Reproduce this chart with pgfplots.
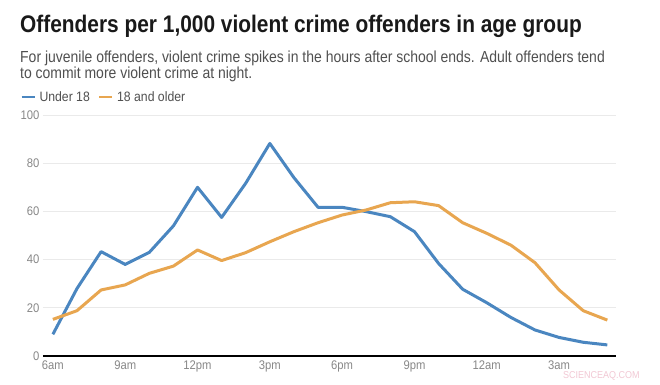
\documentclass[border=0pt]{standalone}
\usepackage{fontspec}
\setmainfont{Liberation Sans}[FakeStretch=0.9]
\newfontfamily\titlefont{Liberation Sans}[FakeStretch=0.87]
\newfontfamily\subfont{Liberation Sans}[FakeStretch=0.873]
\usepackage{pgfplots}
\pgfplotsset{compat=1.18}
\definecolor{ublue}{RGB}{74,134,192}
\definecolor{aorange}{RGB}{232,166,80}
\definecolor{gridc}{RGB}{234,234,234}
\definecolor{tickc}{RGB}{136,136,136}
\definecolor{subc}{RGB}{80,80,80}
\definecolor{titc}{RGB}{25,25,25}
\definecolor{wm}{RGB}{242,200,212}
\begin{document}
\begin{tikzpicture}[x=1pt,y=1pt]
\useasboundingbox[fill=white] (0,0) rectangle (660,384);
\node[anchor=base west, inner sep=0, text=titc, font=\titlefont\bfseries\fontsize{24}{28}\selectfont] at (20,352) {Offenders per 1,000 violent crime offenders in age group};
\node[anchor=base west, inner sep=0, text=subc, font=\subfont\fontsize{16}{19}\selectfont] at (20,322) {For juvenile offenders, violent crime spikes in the hours after school ends. Adult offenders tend};
\node[anchor=base west, inner sep=0, text=subc, font=\subfont\fontsize{16}{19}\selectfont] at (20,306) {to commit more violent crime at night.};
\begin{axis}[
  at={(43pt,28pt)}, anchor=south west,
  scale only axis, width=573pt, height=241pt,
  xmin=-0.41, xmax=23.36, ymin=0, ymax=100,
  axis x line*=bottom, axis y line*=left,
  x axis line style={black, line width=1.4pt},
  y axis line style={draw=none},
  major tick length=0pt,
  ymajorgrids, major grid style={gridc, line width=1pt},
  ytick={0,20,40,60,80,100},
  xtick={0,3,6,9,12,15,18,21},
  xticklabels={6am,9am,12pm,3pm,6pm,9pm,12am,3am},
  /pgf/number format/assume math mode=true,
  tick label style={font=\fontsize{12.5}{14}\selectfont, text=tickc},
  yticklabel style={xshift=0pt},
  xticklabel style={yshift=-1pt},
  legend style={at={(-0.0401,1.0747)}, anchor=west, draw=none, fill=none,
    font=\fontsize{13.6}{15}\selectfont, text=subc, inner sep=0pt,
    /tikz/every odd column/.append style={column sep=1.5pt},
    /tikz/every even column/.append style={column sep=6pt}},
  legend columns=-1,
  legend image code/.code={\draw[#1, line width=2.8pt] (0pt,0pt) -- (13pt,0pt);},
]
\addplot[ublue, line width=3pt, line join=round] coordinates {
(0,9) (1,28) (2,43.3) (3,38) (4,43) (5,54) (6,70) (7,57.5) (8,71.7) (9,88.2) (10,74) (11,61.7)
(12,61.7) (13,59.9) (14,57.8) (15,51.6) (16,38.4) (17,27.7) (18,22.1) (19,16) (20,10.8) (21,7.7) (22,5.7) (23,4.6)};
\addlegendentry{Under 18}
\addplot[aorange, line width=3pt, line join=round] coordinates {
(0,15.2) (1,18.8) (2,27.4) (3,29.5) (4,34.3) (5,37.3) (6,44) (7,39.6) (8,42.9) (9,47.4) (10,51.6) (11,55.3)
(12,58.5) (13,60.6) (14,63.6) (15,64) (16,62.4) (17,55.3) (18,50.9) (19,46) (20,38.7) (21,27.4) (22,18.8) (23,14.9)};
\addlegendentry{18 and older}
\end{axis}
\node[anchor=base west, inner sep=0, text=wm, font=\fontsize{10}{12}\selectfont] at (563,6) {SCIENCEAQ.COM};
\end{tikzpicture}
\end{document}
